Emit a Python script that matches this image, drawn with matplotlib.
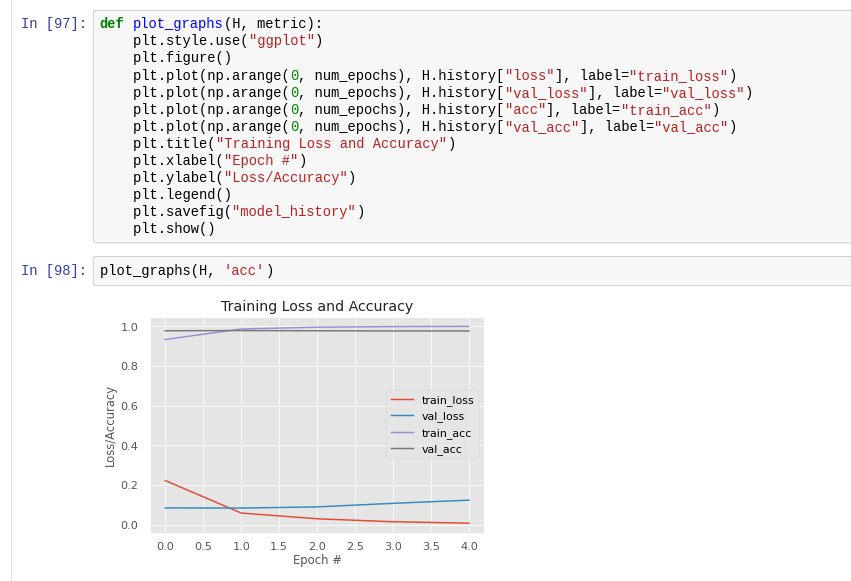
import re
import numpy as np
import matplotlib
matplotlib.use("Agg")
import matplotlib.pyplot as plt
from matplotlib.patches import FancyBboxPatch

# valores
epochs = [0, 1, 2, 3, 4]
train_loss = [0.222, 0.058, 0.029, 0.014, 0.007]
val_loss = [0.084, 0.083, 0.089, 0.107, 0.123]
train_acc = [0.934, 0.987, 0.996, 0.999, 1.000]
val_acc = [0.978, 0.979, 0.978, 0.977, 0.977]

code_97 = [
    'def plot_graphs(H, metric):',
    '    plt.style.use("ggplot")',
    '    plt.figure()',
    '    plt.plot(np.arange(0, num_epochs), H.history["loss"], label="train_loss")',
    '    plt.plot(np.arange(0, num_epochs), H.history["val_loss"], label="val_loss")',
    '    plt.plot(np.arange(0, num_epochs), H.history["acc"], label="train_acc")',
    '    plt.plot(np.arange(0, num_epochs), H.history["val_acc"], label="val_acc")',
    '    plt.title("Training Loss and Accuracy")',
    '    plt.xlabel("Epoch #")',
    '    plt.ylabel("Loss/Accuracy")',
    '    plt.legend()',
    '    plt.savefig("model_history")',
    '    plt.show()',
]
code_98 = ["plot_graphs(H, 'acc')"]

W, H = 851, 581
DPI = 70.4
MONO = "Liberation Mono"
CW = 8.27
FS_PX = CW / 0.6001
FS = FS_PX * 72 / DPI


def px2pt(v):
    return v * 72 / DPI


token_re = re.compile(r'"[^"]*"|\'[^\']*\'|\bdef\b|(?<=def )\w+|\b\d+\b')


def draw_code(ax, lines, x0, y0, step):
    for i, line in enumerate(lines):
        y = y0 + i * step
        pos = 0
        for m in token_re.finditer(line):
            if m.start() > pos:
                ax.text(x0 + pos * CW, y, line[pos:m.start()], color="#000000",
                        fontfamily=MONO, fontsize=FS, va="baseline")
            tok = m.group()
            weight = "normal"
            if tok[0] in "\"'":
                col = "#BA2121"
            elif tok == "def":
                col, weight = "#008000", "bold"
            elif tok.isdigit():
                col = "#008800"
            else:
                col = "#0000FF"
            ax.text(x0 + m.start() * CW, y, tok, color=col, fontweight=weight,
                    fontfamily=MONO, fontsize=FS, va="baseline")
            pos = m.end()
        if pos < len(line):
            ax.text(x0 + pos * CW, y, line[pos:], color="#000000",
                    fontfamily=MONO, fontsize=FS, va="baseline")


plt.style.use("ggplot")
fig = plt.figure(figsize=((W + 0.3) / DPI, (H + 0.3) / DPI), dpi=DPI)

# fondo del notebook en coordenadas de pixel
bg = fig.add_axes([0, 0, 1, 1])
bg.set_xlim(0, W)
bg.set_ylim(H, 0)
bg.axis("off")

bg.plot([10.7, 10.7], [0, H], color="#e0e0e0", lw=1.0)

for top, bottom in [(10.7, 243.0), (256.7, 285.7)]:
    bg.add_patch(FancyBboxPatch((93.3, top), 800, bottom - top,
                                boxstyle="round,pad=0,rounding_size=2.5",
                                facecolor="#f7f7f7", edgecolor="#cfcfcf",
                                lw=1.0))

bg.text(20.7, 28.3, "In [97]:", color="#303F9F", fontfamily=MONO,
        fontsize=FS, va="baseline")
bg.text(20.7, 274.8, "In [98]:", color="#303F9F", fontfamily=MONO,
        fontsize=FS, va="baseline")

draw_code(bg, code_97, 99.7, 28.3, 17.06)
draw_code(bg, code_98, 99.7, 274.8, 17.06)

# grafico
ax = fig.add_axes([150 / W, 1 - 533 / H, 334 / W, 216.3 / H])
ax.plot(epochs, train_loss, label="train_loss")
ax.plot(epochs, val_loss, label="val_loss")
ax.plot(epochs, train_acc, label="train_acc")
ax.plot(epochs, val_acc, label="val_acc")
ax.set_title("Training Loss and Accuracy", fontsize=px2pt(14.1), color="#222222")
ax.set_xlabel("Epoch #", fontsize=px2pt(11.7), labelpad=px2pt(2))
ax.set_ylabel("Loss/Accuracy", fontsize=px2pt(11.7), labelpad=px2pt(4))
ax.tick_params(axis="both", length=0, labelsize=px2pt(11.2))
ax.tick_params(axis="y", pad=px2pt(11.5))
ax.tick_params(axis="x", pad=px2pt(8.5))
ax.legend(loc="center right", fontsize=px2pt(11.0))

fig.savefig("out.png", dpi=DPI)
plt.close()
